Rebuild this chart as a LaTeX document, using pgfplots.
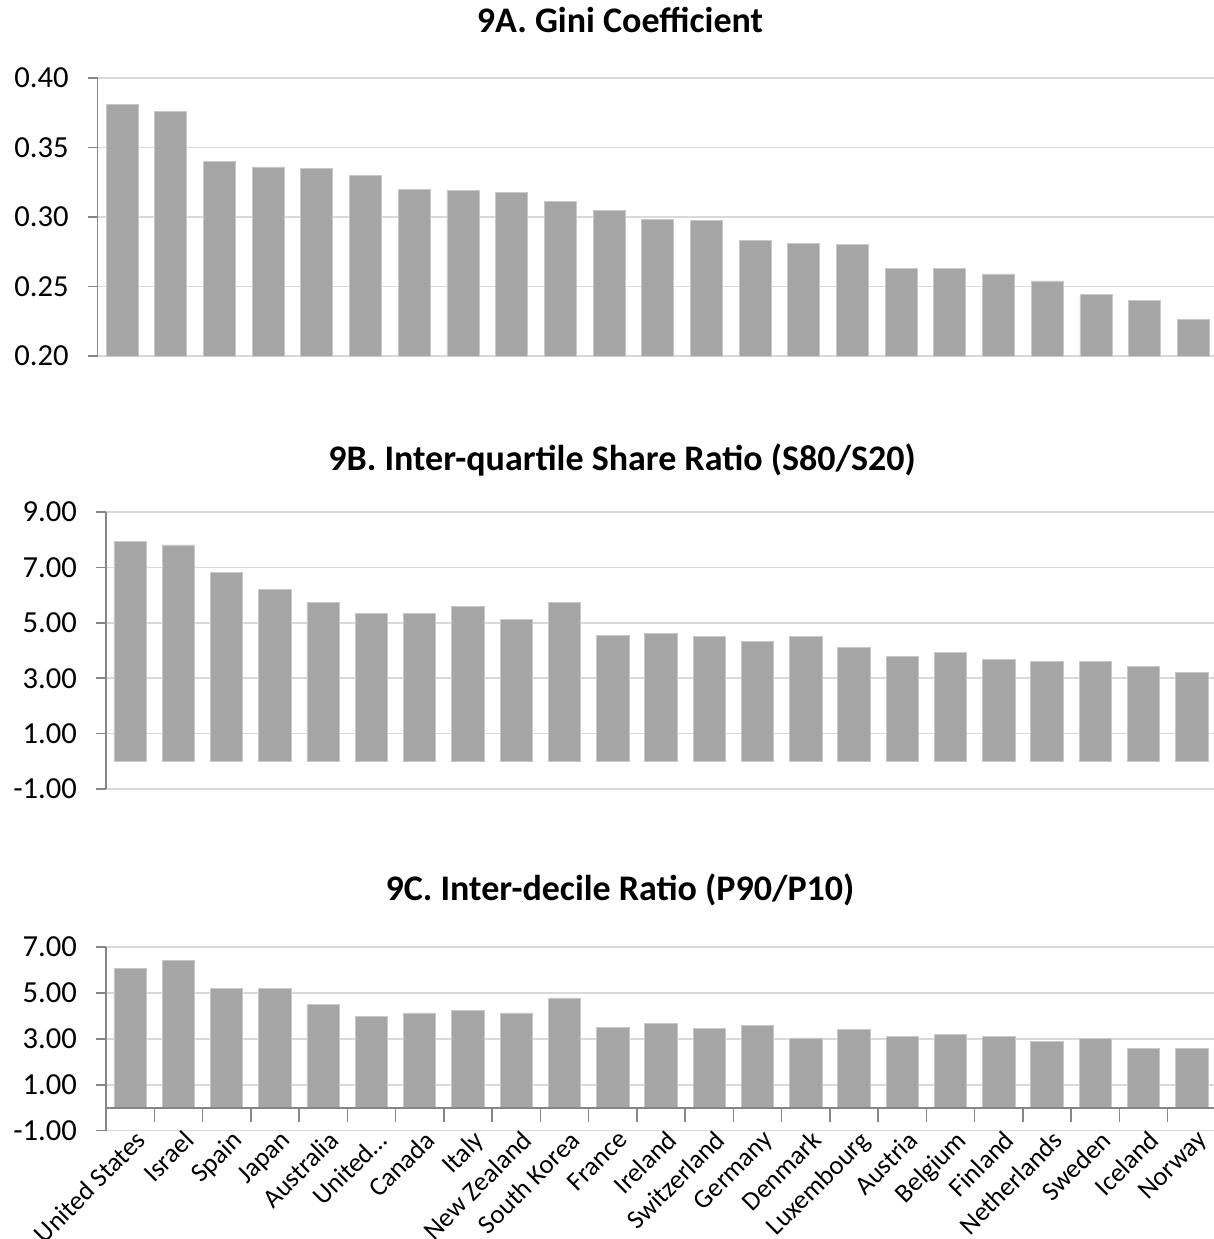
\documentclass[border=0pt]{standalone}
\usepackage{pgfplots}
\pgfplotsset{compat=1.18}
\usepackage{pgfplotstable}
\usepackage{fontspec}
\setmainfont{Carlito}
\definecolor{bargray}{HTML}{A5A5A5}
\definecolor{gridgray}{HTML}{D9D9D9}
\definecolor{axisgray}{HTML}{868686}
\definecolor{edgegray}{HTML}{C8C8C8}

\pgfplotstableread{
x a b c
0 0.381 7.94 6.07
1 0.376 7.81 6.40
2 0.340 6.82 5.21
3 0.336 6.22 5.21
4 0.335 5.73 4.50
5 0.330 5.33 3.97
6 0.320 5.33 4.13
7 0.319 5.59 4.24
8 0.3175 5.11 4.13
9 0.311 5.73 4.78
10 0.305 4.53 3.49
11 0.298 4.60 3.69
12 0.2975 4.51 3.47
13 0.283 4.33 3.57
14 0.281 4.51 3.04
15 0.280 4.11 3.42
16 0.263 3.79 3.10
17 0.263 3.92 3.20
18 0.259 3.69 3.10
19 0.254 3.61 2.88
20 0.244 3.61 3.01
21 0.240 3.43 2.60
22 0.226 3.20 2.60
}\data

\pgfplotsset{
  panel/.style={
    scale only axis,
    anchor=south west,
    xmin=-0.5, xmax=22.5,
    axis y line*=left,
    y axis line style={draw=axisgray, line width=0.75pt, -},
    ytick style={draw=axisgray, line width=0.75pt},
    major tick length=5pt,
    tick align=outside,
    ymajorgrids=true,
    grid style={draw=gridgray, line width=0.75pt},
    yticklabel style={font=\fontsize{15.3}{18}\selectfont, xshift=-6pt},
    /pgf/number format/assume math mode=true,
    /pgf/number format/fixed,
    /pgf/number format/fixed zerofill,
    /pgf/number format/precision=2,
    scaled y ticks=false,
    ybar,
  },
  bars/.style={fill=bargray, draw=edgegray, line width=0.4pt},
}

\begin{document}
\begin{tikzpicture}
\path[use as bounding box] (0,0) rectangle (607pt,-619.5pt);

% Panel A
\node[font=\bfseries\fontsize{18}{21}\selectfont] at (310pt,-10pt) {9A. Gini Coefficient};
\begin{axis}[panel, axis x line=none, xtick=\empty, at={(48.85pt,-178pt)}, width=560pt, height=139pt,
  ymin=0.2, ymax=0.4, ytick={0.20,0.25,0.30,0.35,0.40}, bar width=16pt]
\addplot[bars] table[x=x,y=a]{\data};
\end{axis}

% Panel B
\node[font=\bfseries\fontsize{18}{21}\selectfont] at (311pt,-230pt) {9B. Inter-quartile Share Ratio (S80/S20)};
\begin{axis}[panel, axis x line=none, xtick=\empty, at={(53pt,-394.5pt)}, width=555pt, height=138.5pt,
  ymin=-1, ymax=9, ytick={-1,1,3,5,7,9}, bar width=16.2pt]
\addplot[bars] table[x=x,y=b]{\data};
\end{axis}

% Panel C
\node[font=\bfseries\fontsize{18}{21}\selectfont] at (310pt,-445pt) {9C. Inter-decile Ratio (P90/P10)};
\begin{axis}[panel, at={(53pt,-565.35pt)}, width=555pt, height=91.85pt,
  axis x line*=bottom,
  x axis line style={draw=none},
  ymin=-1, ymax=7, ytick={-1,1,3,5,7}, bar width=16.2pt,
  xtick=data,
  xticklabels={United States, Israel, Spain, Japan, Australia, United…, Canada, Italy, New Zealand, South Korea, France, Ireland, Switzerland, Germany, Denmark, Luxembourg, Austria, Belgium, Finland, Netherlands, Sweden, Iceland, Norway},
  xticklabel shift=-7.5pt,
  xticklabel style={font=\fontsize{13.3}{15}\selectfont, xshift=2pt, rotate=45, anchor=north east, inner sep=1pt},
  x tick style={draw=none}]
\addplot[bars] table[x=x,y=c]{\data};
\end{axis}
\begin{axis}[scale only axis, anchor=south west, at={(53pt,-565.35pt)}, width=555pt, height=91.85pt,
  xmin=-0.5, xmax=22.5, ymin=-1, ymax=7,
  axis y line=none, axis x line=middle,
  x axis line style={draw=axisgray, line width=0.75pt, -},
  xtick={0.5,1.5,...,21.5}, xticklabels={},
  x tick style={draw=axisgray, line width=0.75pt},
  major tick length=7pt, tick align=outside]
\end{axis}
\end{tikzpicture}
\end{document}
